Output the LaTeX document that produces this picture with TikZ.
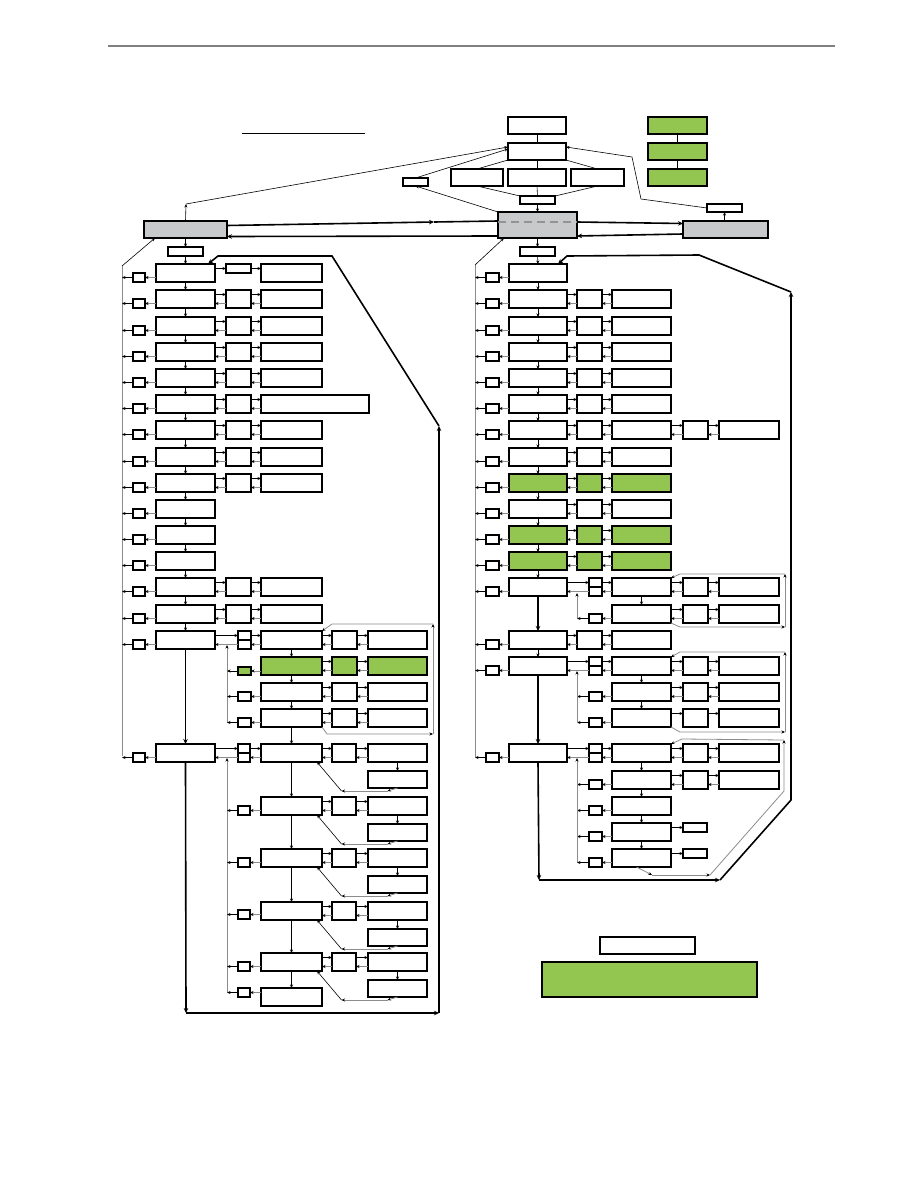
\documentclass[tikz,border=0pt]{standalone}
\usetikzlibrary{arrows.meta,calc}
\definecolor{leaf}{RGB}{146,198,81}
\definecolor{boxgray}{RGB}{200,201,203}
\definecolor{linegray}{RGB}{140,140,140}
\tikzset{
 box/.style={draw=black, line width=1.2pt, fill=white, inner sep=0pt, outer sep=0pt, anchor=north west},
 gbox/.style={box, fill=leaf},
 graybox/.style={box, fill=boxgray},
 arr/.style={-{Stealth[length=3.5pt,width=3pt]}, line width=0.6pt},
 garr/.style={-{Stealth[length=3.5pt,width=3pt,color=black]}, line width=0.8pt, draw=linegray},
 tarr/.style={-{Stealth[length=5pt,width=4.5pt]}, line width=1.6pt},
 tln/.style={line width=1.6pt},
 ln/.style={line width=0.6pt},
}
\newcommand\bx[6][box]{\node[#1, minimum width=#5pt, minimum height=#6pt] (#2) at (#3,#4) {};}
\newcommand\pair[2]{\draw[arr] ([yshift=4.5pt]#1.east) -- ([yshift=4.5pt]#2.west); \draw[garr] ([yshift=-4.5pt]#2.west) -- ([yshift=-4.5pt]#1.east);}
\newcommand\fwdonly[2]{\draw[arr] ([yshift=4.5pt]#1.east) -- ([yshift=4.5pt]#2.west);}
\begin{document}
\begin{tikzpicture}[x=1pt,y=-1pt]
\useasboundingbox (0,0) rectangle (918,1188);
% header and title rule
\draw[line width=1.2pt, draw=gray] (108,46) -- (835,46);
\draw[line width=0.8pt] (242,133) -- (365,133);
% ---------- top section ----------
\bx{tA}{508}{117}{58}{17}
\bx{tB}{508}{143}{58}{17}
\bx{tC1}{451}{169}{52}{17}
\bx{tC2}{508}{169}{58}{17}
\bx{tC3}{571}{169}{53}{17}
\bx{tD}{520}{196}{35}{8}
\bx[gbox]{g1}{648}{117}{59}{17}
\bx[gbox]{g2}{648}{143}{59}{17}
\bx[gbox]{g3}{648}{169}{59}{17}
\bx{tl}{403}{178}{25}{8}
\bx[graybox]{lg}{144}{221}{83}{17}
\bx[graybox]{cg}{498}{212}{79}{26}
\bx[graybox]{rg}{683}{221}{85}{17}
\bx{rsb}{707}{204}{35}{8}
\bx{lb}{168}{247}{35}{9}
\bx{cb}{520}{247}{35}{9}
\draw[dash pattern=on 8pt off 5pt, line width=1.8pt, draw=gray!85] ([yshift=3pt]cg.west) -- ([yshift=3pt]cg.east);
\draw[ln] (tA.south) -- (tB.north);
\draw[ln] (tB.south) -- (tC2.north);
\draw[ln] (tC2.south) -- (tD.north);
\draw[arr] (tD.south) -- (cg.north);
\draw[ln] (tB.south west) -- (tC1.north);
\draw[ln] (tB.south east) -- (tC3.north);
\draw[ln] (tC1.south) -- (tD.north west);
\draw[ln] (tC3.south) -- (tD.north east);
\draw[ln] (g1.south) -- (g2.north);
\draw[ln] (g2.south) -- (g3.north);
\coordinate (lgup) at (186,204);
\draw[arr] (lg.north) -- (lgup);
\draw[arr] (lgup) -- ([yshift=4.5pt]tB.west);
\draw[arr] (tl.north) -- ([yshift=2.5pt]tB.west);
\draw[arr] (cg.north west) -- (tl.south);
\draw[arr] (rsb.south |- rg.north) -- (rsb.south);
\coordinate (rp1) at (641,199);
\coordinate (rp2) at (632,157);
\draw[arr] (rsb.west) -- (rp1) -- (rp2) -- ([yshift=4.5pt]tB.east);
\coordinate (mA) at (434,222);
\draw[tarr] ([yshift=4pt]lg.east) -- (mA);
\draw[tln] (mA) -- ([yshift=4pt]cg.west);
\draw[tarr] ([yshift=-11pt]cg.west) -- ([yshift=-7pt]lg.east);
\draw[tarr] ([yshift=3pt]cg.east) -- ([yshift=6pt]rg.west);
\draw[tarr] ([yshift=-4.5pt]rg.west) -- ([yshift=-11pt]cg.east);
\draw[arr] (lg.south) -- (lb.north);
\draw[arr] (cg.south) -- (cb.north);
% ---------- left column ----------
\foreach \i/\y/\f in {1/264/white,2/290/white,3/317/white,4/343/white,5/369/white,6/395/white,7/421/white,8/448/white,9/474/white,10/500/white,11/526/white,12/552/white,13/578/white,14/605/white,15/631/white,16/744/white}
{ \bx[box,fill=\f]{lm\i}{156}{\y}{59}{18}
  \pgfmathsetmacro\ys{\y+9}
  \bx{ls\i}{133}{\ys}{12}{9} }
\draw[arr] (lb.south) -- (lm1.north);
\foreach \i in {1,...,14} {\pgfmathtruncatemacro\j{\i+1}\draw[arr] (lm\i.south) -- (lm\j.north);}
\coordinate (LVt) at (122,266);
\coordinate (LVb) at (122,756);
\draw[ln, draw=linegray] (LVb) -- (LVt);
\draw[arr] (LVt) -- ([xshift=11pt]lg.south west);
\foreach \i in {1,...,16} {
  \draw[garr] (lm\i.west |- ls\i.east) -- (ls\i.east);
  \draw[arr] (ls\i.west) -- (ls\i.west -| LVt); }
\bx{lmid1}{226}{264}{25}{9}
\bx{lr1}{261}{264}{61}{18}
\draw[arr] (lm1.east |- lmid1.west) -- (lmid1.west);
\draw[arr] (lmid1.east) -- (lmid1.east -| lr1.west);
\foreach \i/\y/\w in {2/290/61,3/317/61,4/343/61,5/369/61,6/395/108,7/421/61,8/448/61,9/474/61,13/578/61,14/605/61}
{ \bx{lmid\i}{226}{\y}{25}{18}
  \bx{lr\i}{261}{\y}{\w}{18}
  \pair{lm\i}{lmid\i} \pair{lmid\i}{lr\i} }
% left sub-block A
\bx{spA}{238}{631}{13}{9}
\bx{spB}{238}{640}{13}{9}
\bx{s2}{238}{667}{13}{8}
\node[gbox, minimum width=13pt, minimum height=8pt] at (238,667) {};
\bx{s3}{238}{692}{13}{9}
\bx{s4}{238}{718}{13}{9}
\foreach \k/\y/\f in {1/631/white,2/657/leaf,3/683/white,4/709/white}
{ \bx[box,fill=\f]{b\k}{261}{\y}{61}{18}
  \bx[box,fill=\f]{m\k}{332}{\y}{25}{18}
  \bx[box,fill=\f]{r\k}{368}{\y}{59}{18}
  \pair{b\k}{m\k} \pair{m\k}{r\k} }
\draw[arr] (lm15.east |- spA.west) -- (spA.west);
\draw[garr] (spB.west) -- (spB.west -| lm15.east);
\draw[arr] (spA.east) -- (spA.east -| b1.west);
\draw[garr] (b1.west |- spB.east) -- (spB.east);
\coordinate (UV1) at (227,645);
\coordinate (UV2) at (227,723);
\draw[garr] (UV2) -- (UV1);
\foreach \k in {2,3,4} {
  \draw[garr] (b\k.west |- s\k.east) -- (s\k.east);
  \draw[arr] (s\k.west) -- (s\k.west -| UV1); }
\draw[arr] (b1.south) -- (b2.north);
\draw[arr] (b2.south) -- (b3.north);
\draw[arr] (b3.south) -- (b4.north);
\coordinate (UL1) at (327,734);
\coordinate (UL2) at (433,734);
\coordinate (UL3) at (433,624);
\coordinate (UL4) at (332,624);
\draw[garr] (b4.south east) -- (UL1) -- (UL2);
\draw[garr] (UL2) -- (UL3);
\draw[garr] (UL3) -- (UL4) -- (b1.north east);
% left sub-block B
\bx{spC}{238}{744}{12}{9}
\bx{spD}{238}{753}{12}{9}
\foreach \k/\y in {1/744,2/797,3/849,4/902,5/953}
{ \bx{c\k}{261}{\y}{61}{18}
  \bx{cm\k}{332}{\y}{24}{18}
  \bx{cr\k}{368}{\y}{59}{18}
  \pgfmathsetmacro\yd{\y+27}
  \bx{cd\k}{368}{\yd}{59}{17}
  \pair{c\k}{cm\k} \pair{cm\k}{cr\k}
  \draw[arr] (cr\k.south) -- (cd\k.north);
  \draw[garr] (cd\k.south) -- ++(-10,3) coordinate (lrA\k);
  \draw[garr] (lrA\k) -- ++(-46,0) coordinate (lrB\k);
  \draw[arr] (lrB\k) -- ([xshift=-5pt]c\k.south east); }
\bx{c6}{261}{988}{61}{18}
\foreach \k/\y in {2/806,3/858,4/910,5/962,6/988}
{ \bx{cs\k}{238}{\y}{12}{9} }
\draw[arr] (lm16.east |- spC.west) -- (spC.west);
\draw[garr] (spD.west) -- (spD.west -| lm16.east);
\draw[arr] (spC.east) -- (spC.east -| c1.west);
\draw[garr] (c1.west |- spD.east) -- (spD.east);
\coordinate (BV1) at (227,758);
\coordinate (BV2) at (227,992);
\draw[garr] (BV2) -- (BV1);
\foreach \k in {2,...,6} {
  \draw[garr] (c\k.west |- cs\k.east) -- (cs\k.east);
  \draw[arr] (cs\k.west) -- (cs\k.west -| BV1); }
\draw[arr] (b4.south) -- (c1.north);
\foreach \k in {1,...,5} {\pgfmathtruncatemacro\j{\k+1}\draw[arr] (c\k.south) -- (c\j.north);}
% left big loop
\coordinate (LB1) at (186,1013);
\coordinate (LB2) at (439,1013);
\coordinate (LB3) at (439,426);
\coordinate (LB4) at (332,256);
\coordinate (LB5) at (218,256);
\draw[tarr] (lm15.south) -- (lm16.north);
\draw[tarr] (lm16.south) -- (LB1);
\draw[tarr] (LB1) -- (LB2);
\draw[tarr] (LB2) -- (LB3);
\draw[tarr] (LB3) -- (LB4) -- (LB5) -- ([xshift=-7pt]lm1.north east);
% ---------- right column ----------
\foreach \i/\y/\f in {1/264/white,2/290/white,3/317/white,4/343/white,5/369/white,6/395/white,7/421/white,8/448/white,9/474/leaf,10/500/white,11/526/leaf,12/552/leaf,13/578/white,14/631/white,15/657/white,16/744/white}
{ \bx[box,fill=\f]{rm\i}{509}{\y}{58}{18}
  \pgfmathsetmacro\ys{\y+9}
  \bx{rs\i}{486}{\ys}{13}{9} }
\draw[arr] (cb.south) -- (rm1.north);
\foreach \i in {1,...,12} {\pgfmathtruncatemacro\j{\i+1}\draw[arr] (rm\i.south) -- (rm\j.north);}
\draw[arr] (rm14.south) -- (rm15.north);
\coordinate (RVt) at (475,265);
\coordinate (RVb) at (475,757);
\draw[ln, draw=linegray] (RVb) -- (RVt);
\draw[arr] (RVt) -- ([xshift=6pt]cg.south west);
\foreach \i in {1,...,16} {
  \draw[garr] (rm\i.west |- rs\i.east) -- (rs\i.east);
  \draw[arr] (rs\i.west) -- (rs\i.west -| RVt); }
\foreach \i/\y/\f in {2/290/white,3/317/white,4/343/white,5/369/white,6/395/white,7/421/white,8/448/white,9/474/leaf,10/500/white,11/526/leaf,12/552/leaf,14/631/white}
{ \bx[box,fill=\f]{rmid\i}{577}{\y}{25}{18}
  \bx[box,fill=\f]{rr\i}{612}{\y}{59}{18}
  \pair{rm\i}{rmid\i} \pair{rmid\i}{rr\i} }
\bx{rmidSeven}{683}{421}{25}{18}
\bx{rrSeven}{719}{421}{60}{18}
\pair{rr7}{rmidSeven} \pair{rmidSeven}{rrSeven}
% right sub-blocks
\foreach \k/\y in {1/578,2/605,3/657,4/683,5/709,6/744,7/771}
{ \bx{q\k}{612}{\y}{59}{18}
  \bx{qm\k}{683}{\y}{25}{18}
  \bx{qr\k}{719}{\y}{60}{18} }
\bx{q8}{612}{797}{59}{18}
\bx{q9}{612}{823}{59}{18}
\bx{q10}{612}{849}{59}{18}
\bx{qe9}{683}{823}{24}{9}
\bx{qe10}{683}{849}{24}{9}
\foreach \k in {1,2,3,4,6,7} { \pair{q\k}{qm\k} \pair{qm\k}{qr\k} }
\fwdonly{q5}{qm5} \fwdonly{qm5}{qr5}
\draw[arr] (q9.east |- qe9.west) -- (qe9.west);
\draw[arr] (q10.east |- qe10.west) -- (qe10.west);
\bx{rspA}{589}{578}{13}{9}
\bx{rspB}{589}{587}{13}{9}
\bx{rspC}{589}{657}{13}{9}
\bx{rspD}{589}{666}{13}{9}
\bx{rspE}{589}{744}{13}{9}
\bx{rspF}{589}{753}{13}{9}
\foreach \a/\b/\m/\q in {rspA/rspB/rm13/q1, rspC/rspD/rm15/q3, rspE/rspF/rm16/q6}
{ \draw[arr] (\m.east |- \a.west) -- (\a.west);
  \draw[garr] (\b.west) -- (\b.west -| \m.east);
  \draw[arr] (\a.east) -- (\a.east -| \q.west);
  \draw[garr] (\q.west |- \b.east) -- (\b.east); }
\foreach \k/\y in {2/614,4/692,5/718,7/780,8/806,9/832,10/858}
{ \bx{qs\k}{589}{\y}{13}{9} }
\coordinate (RG) at (577,600);
\foreach \k in {2,4,5,7,8,9,10} {
  \draw[garr] (q\k.west |- qs\k.east) -- (qs\k.east);
  \draw[arr] (qs\k.west) -- (qs\k.west -| RG); }
\draw[garr] (577,618) -- (577,593);
\draw[garr] (577,723) -- (577,671);
\draw[garr] (577,862) -- (577,758);
\draw[arr] (q1.south) -- (q2.north);
\draw[arr] (q3.south) -- (q4.north);
\draw[arr] (q4.south) -- (q5.north);
\foreach \k in {6,...,9} {\pgfmathtruncatemacro\j{\k+1}\draw[arr] (q\k.south) -- (q\j.north);}
% right loops
\coordinate (RA1) at (680,627); \coordinate (RA2) at (785,627);
\coordinate (RA3) at (785,574); \coordinate (RA4) at (680,574);
\draw[garr] (q2.south east) -- (RA1) -- (RA2);
\draw[garr] (RA2) -- (RA3);
\draw[garr] (RA3) -- (RA4) -- (q1.north east);
\coordinate (RC1) at (680,732); \coordinate (RC2) at (785,732);
\coordinate (RC3) at (785,652); \coordinate (RC4) at (680,652);
\draw[garr] (q5.south east) -- (RC1) -- (RC2);
\draw[garr] (RC2) -- (RC3);
\draw[garr] (RC3) -- (RC4) -- (q3.north east);
\coordinate (RD1) at (652,875); \coordinate (RD2) at (710,875);
\coordinate (RD3) at (784,791); \coordinate (RD4) at (784,740);
\coordinate (RD5) at (682,739);
\draw[garr] ([xshift=-5pt]q10.south) -- (RD1);
\draw[garr] (RD1) -- (RD2);
\draw[garr] (RD2) -- (RD3) -- (RD4);
\draw[garr] (RD4) -- (RD5) -- (q6.north east);
% right big loop
\coordinate (RB1) at (539,880);
\coordinate (RB2) at (720,880);
\coordinate (RB3) at (791,800);
\coordinate (RB4) at (791,292);
\coordinate (RB5) at (699,255);
\coordinate (RB6) at (567,256);
\draw[tarr] (rm13.south) -- (rm14.north);
\draw[tarr] (rm15.south) -- (rm16.north);
\draw[tarr] (rm16.south) -- (RB1);
\draw[tarr] (RB1) -- (RB2);
\draw[tarr] (RB2) -- (RB3) -- (RB4);
\draw[tarr] (RB4) -- (RB5) -- (RB6) -- ([xshift=-9pt]rm1.north east);
% legend
\bx{leg1}{600}{937}{95}{17}
\bx[gbox]{leg2}{542}{962}{215}{35}
\end{tikzpicture}
\end{document}
